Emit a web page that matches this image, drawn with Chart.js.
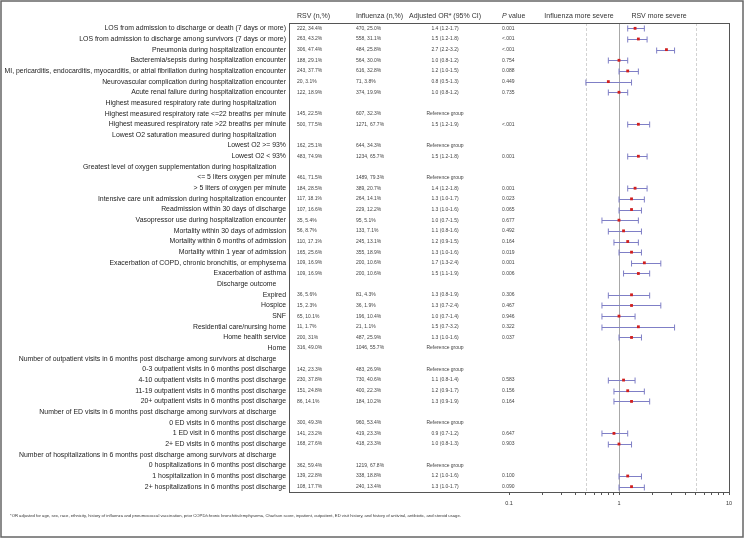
<!DOCTYPE html>
<html>
<head>
<meta charset="utf-8">
<script src="https://cdn.jsdelivr.net/npm/chart.js@4"></script>
<style>
  body { margin: 0; background: #fff; }
  canvas { display: block; }
</style>
</head>
<body>
<canvas id="chart" width="745" height="538"></canvas>
<script>
const labels = [
  'LOS from admission to discharge or death (7 days or more)',
  'LOS from admission to discharge among survivors (7 days or more)',
  'Pneumonia during hospitalization encounter',
  'Bacteremia/sepsis during hospitalization encounter',
  'MI, pericarditis, endocarditis, myocarditis, or atrial fibrillation during hospitalization encounter',
  'Neurovascular complication during hospitalization encounter',
  'Acute renal failure during hospitalization encounter',
  'Highest measured respiratory rate during hospitalization',
  'Highest measured respiratory rate <=22 breaths per minute',
  'Highest measured respiratory rate >22 breaths per minute',
  'Lowest O2 saturation measured during hospitalization',
  'Lowest O2 >= 93%',
  'Lowest O2 < 93%',
  'Greatest level of oxygen supplementation during hospitalization',
  '<= 5 liters oxygen per minute',
  '> 5 liters of oxygen per minute',
  'Intensive care unit admission during hospitalization encounter',
  'Readmission within 30 days of discharge',
  'Vasopressor use during hospitalization encounter',
  'Mortality within 30 days of admission',
  'Mortality within 6 months of admission',
  'Mortality within 1 year of admission',
  'Exacerbation of COPD, chronic bronchitis, or emphysema',
  'Exacerbation of asthma',
  'Discharge outcome',
  'Expired',
  'Hospice',
  'SNF',
  'Residential care/nursing home',
  'Home health service',
  'Home',
  'Number of outpatient visits in 6 months post discharge among survivors at discharge',
  '0-3 outpatient visits in 6 months post discharge',
  '4-10 outpatient visits in 6 months post discharge',
  '11-19 outpatient visits in 6 months post discharge',
  '20+ outpatient visits in 6 months post discharge',
  'Number of ED visits in 6 months post discharge among survivors at discharge',
  '0 ED visits in 6 months post discharge',
  '1 ED visit in 6 months post discharge',
  '2+ ED visits in 6 months post discharge',
  'Number of hospitalizations in 6 months post discharge among survivors at discharge',
  '0 hospitalizations in 6 months post discharge',
  '1 hospitalization in 6 months post discharge',
  '2+ hospitalizations in 6 months post discharge'
];

const rsv = ['222, 34.4%','263, 43.2%','306, 47.4%','188, 29.1%','243, 37.7%','20, 3.1%','122, 18.9%', null,
  '145, 22.5%','500, 77.5%', null,'162, 25.1%','483, 74.9%', null,'461, 71.5%','184, 28.5%','117, 18.1%',
  '107, 16.6%','35, 5.4%','56, 8.7%','110, 17.1%','165, 25.6%','109, 16.9%','109, 16.9%', null,
  '36, 5.6%','15, 2.3%','65, 10.1%','11, 1.7%','200, 31%','316, 49.0%', null,
  '142, 23.3%','230, 37.8%','151, 24.8%','86, 14.1%', null,'300, 49.3%','141, 23.2%','168, 27.6%', null,
  '362, 59.4%','139, 22.8%','108, 17.7%'];

const flu = ['470, 25.0%','558, 31.1%','484, 25.8%','564, 30.0%','616, 32.8%','71, 3.8%','374, 19.9%', null,
  '607, 32.3%','1271, 67.7%', null,'644, 34.3%','1234, 65.7%', null,'1489, 79.3%','389, 20.7%','264, 14.1%',
  '229, 12.2%','95, 5.1%','133, 7.1%','245, 13.1%','355, 18.9%','200, 10.6%','200, 10.6%', null,
  '81, 4.3%','36, 1.9%','196, 10.4%','21, 1.1%','487, 25.9%','1046, 55.7%', null,
  '483, 26.9%','730, 40.6%','400, 22.3%','184, 10.2%', null,'960, 53.4%','419, 23.3%','418, 23.3%', null,
  '1219, 67.8%','338, 18.8%','240, 13.4%'];

const orVal = [1.4,1.5,2.7,1.0,1.2,0.8,1.0,null,null,1.5,null,null,1.5,null,null,1.4,1.3,1.3,1.0,1.1,1.2,1.3,
  1.7,1.5,null,1.3,1.3,1.0,1.5,1.3,null,null,null,1.1,1.2,1.3,null,null,0.9,1.0,null,null,1.2,1.3];
const ciLow = [1.2,1.2,2.2,0.8,1.0,0.5,0.8,null,null,1.2,null,null,1.2,null,null,1.2,1.0,1.0,0.7,0.8,0.9,1.0,
  1.3,1.1,null,0.8,0.7,0.7,0.7,1.0,null,null,null,0.8,0.9,0.9,null,null,0.7,0.8,null,null,1.0,1.0];
const ciHigh = [1.7,1.8,3.2,1.2,1.5,1.3,1.2,null,null,1.9,null,null,1.8,null,null,1.8,1.7,1.6,1.5,1.6,1.5,1.6,
  2.4,1.9,null,1.9,2.4,1.4,3.2,1.6,null,null,null,1.4,1.7,1.9,null,null,1.2,1.3,null,null,1.6,1.7];

const pText = ['0.001','<.001','<.001','0.754','0.088','0.449','0.735',null,null,'<.001',null,null,'0.001',null,null,
  '0.001','0.023','0.065','0.677','0.492','0.164','0.019','0.001','0.006',null,'0.306','0.467','0.946','0.322','0.037',
  null,null,null,'0.583','0.156','0.164',null,null,'0.647','0.903',null,null,'0.100','0.090'];

const xTicks = [0.1,0.2,0.3,0.4,0.5,0.6,0.7,0.8,0.9,1,2,3,4,5,6,7,8,9,10];
const xTickLabels = { 0.1: '0.1', 1: '1', 10: '10' };

const footnote = '*OR adjusted for age, sex, race, ethnicity, history of influenza and pneumococcal vaccination, prior COPD/chronic bronchitis/emphysema, Charlson score, inpatient, outpatient, ED visit history, and history of antiviral, antibiotic, and steroid usage.';

const FONT = '"Liberation Sans", Arial, sans-serif';
Chart.defaults.font.family = FONT;

function orLabel(i) {
  if (rsv[i] === null) return null;
  if (orVal[i] === null) return 'Reference group';
  return `${orVal[i].toFixed(1)} (${ciLow[i].toFixed(1)}-${ciHigh[i].toFixed(1)})`;
}

// y given as the category label so the category scale finds the right row
const points = orVal.map((v, i) => v === null ? null : { x: v, y: labels[i] }).filter(p => p);

const tablePlugin = {
  id: 'table',
  beforeDatasetsDraw(chart) {
    const { ctx, chartArea: a, scales: { x, y } } = chart;
    ctx.save();
    // reference lines
    ctx.lineWidth = 1;
    ctx.strokeStyle = '#d2d2d2';
    ctx.setLineDash([3, 2]);
    [0.5, 5].forEach(v => {
      const px = Math.round(x.getPixelForValue(v)) + 0.5;
      ctx.beginPath(); ctx.moveTo(px, a.top); ctx.lineTo(px, a.bottom); ctx.stroke();
    });
    ctx.setLineDash([]);
    ctx.strokeStyle = '#a8a8a8';
    const p1 = Math.round(x.getPixelForValue(1)) + 0.5;
    ctx.beginPath(); ctx.moveTo(p1, a.top); ctx.lineTo(p1, a.bottom); ctx.stroke();

    // confidence intervals
    ctx.strokeStyle = '#7f7fc6';
    ciLow.forEach((l, i) => {
      if (l === null) return;
      const py = Math.round(y.getPixelForValue(i)) + 0.5;
      const x1 = x.getPixelForValue(l), x2 = x.getPixelForValue(ciHigh[i]);
      ctx.beginPath();
      ctx.moveTo(x1, py); ctx.lineTo(x2, py);
      ctx.moveTo(x1, py - 3); ctx.lineTo(x1, py + 3);
      ctx.moveTo(x2, py - 3); ctx.lineTo(x2, py + 3);
      ctx.stroke();
    });
    ctx.restore();
  },
  afterDraw(chart) {
    const { ctx, chartArea: a, scales: { y } } = chart;
    ctx.save();
    ctx.lineWidth = 1;
    ctx.strokeStyle = '#555';
    ctx.strokeRect(Math.round(a.left) + 0.5, Math.round(a.top) + 0.5, Math.round(a.width), Math.round(a.height));
    ctx.lineWidth = 1.5;
    ctx.strokeStyle = '#666';
    ctx.strokeRect(1, 1, 742, 536);

    // column headers
    ctx.fillStyle = '#333';
    ctx.textBaseline = 'middle';
    ctx.font = `7px ${FONT}`;
    ctx.textAlign = 'left';
    ctx.fillText('RSV (n,%)', 297, 16);
    ctx.fillText('Influenza (n,%)', 356, 16);
    ctx.textAlign = 'center';
    ctx.fillText('Adjusted OR* (95% CI)', 445, 16);
    ctx.fillText('Influenza more severe', 579, 16);
    ctx.fillText('RSV more severe', 659, 16);
    ctx.textAlign = 'left';
    ctx.font = `italic 7px ${FONT}`;
    ctx.fillText('P', 502, 16);
    const pw = ctx.measureText('P ').width;
    ctx.font = `7px ${FONT}`;
    ctx.fillText('value', 502 + pw, 16);

    // table body
    ctx.font = `5px ${FONT}`;
    ctx.fillStyle = '#444';
    labels.forEach((_, i) => {
      if (rsv[i] === null) return;
      const py = y.getPixelForValue(i);
      ctx.textAlign = 'left';
      ctx.fillText(rsv[i], 297, py);
      ctx.fillText(flu[i], 356, py);
      if (pText[i]) ctx.fillText(pText[i], 502, py);
      ctx.textAlign = 'center';
      ctx.fillText(orLabel(i), 445, py);
    });

    // footnote
    ctx.textAlign = 'left';
    ctx.font = `4.2px ${FONT}`;
    ctx.fillStyle = '#333';
    ctx.fillText(footnote, 10, 516);
    ctx.restore();
  }
};

new Chart(document.getElementById('chart'), {
  type: 'scatter',
  data: {
    labels,
    datasets: [{
      data: points,
      pointStyle: 'rect',
      pointRadius: 2,
      pointBorderWidth: 0,
      backgroundColor: '#d01f1f',
      borderColor: '#d01f1f'
    }]
  },
  options: {
    responsive: false,
    devicePixelRatio: 1,
    animation: false,
    layout: { padding: { left: 0, top: 23, right: 16, bottom: 0 } },
    plugins: { legend: { display: false }, tooltip: { enabled: false } },
    scales: {
      x: {
        type: 'logarithmic',
        min: 0.001,
        max: 10,
        afterBuildTicks: scale => { scale.ticks = xTicks.map(v => ({ value: v })); },
        afterFit: scale => { scale.height = 46; },
        border: { display: false },
        grid: { drawOnChartArea: false, drawTicks: true, tickLength: 3, color: '#555' },
        ticks: {
          autoSkip: false,
          maxRotation: 0,
          padding: 5,
          color: '#333',
          font: { size: 5.5 },
          callback: v => xTickLabels[v] || ''
        }
      },
      y: {
        type: 'category',
        labels,
        offset: true,
        afterFit: scale => { scale.width = 289; },
        border: { display: false },
        grid: { display: false, drawTicks: false },
        ticks: {
          autoSkip: false,
          padding: 3,
          color: '#222',
          font: { size: 6.9 },
          callback: function (v, i) {
            const t = this.getLabelForValue(v);
            return rsv[i] === null ? t + '     ' : t;
          }
        }
      }
    }
  },
  plugins: [tablePlugin]
});
</script>
</body>
</html>
